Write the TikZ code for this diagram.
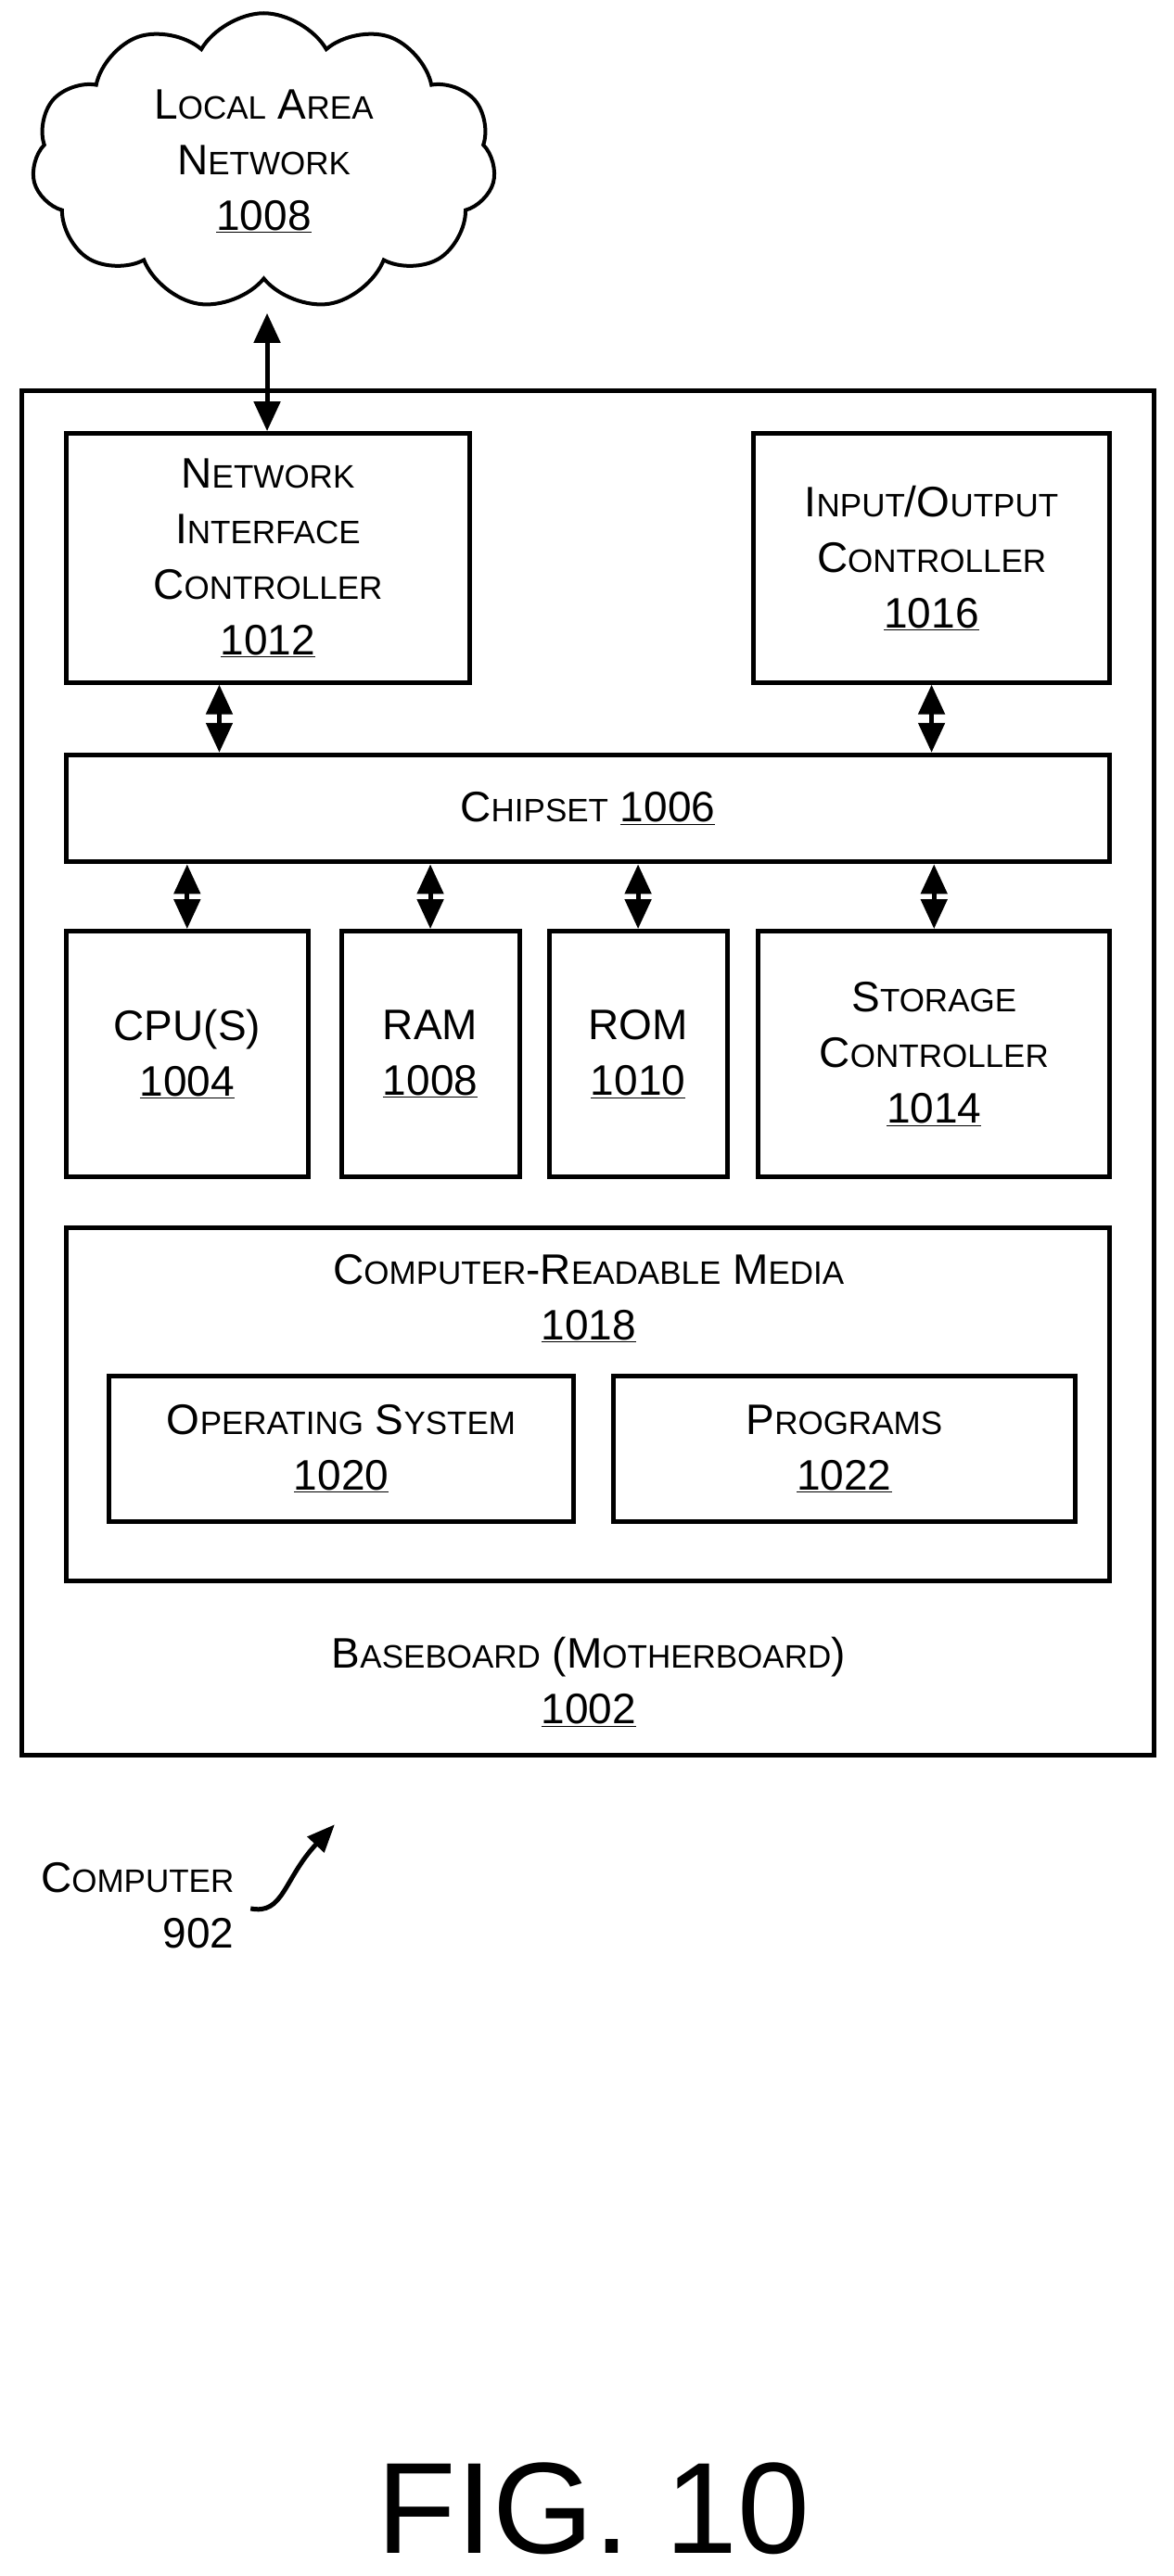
\documentclass[tikz,border=0pt]{standalone}
\usepackage{fontspec}
\setmainfont{Liberation Sans}
\usetikzlibrary{arrows.meta,shapes.symbols}
\newcommand\sk[1]{{\fontsize{35}{60}\selectfont #1}}
\begin{document}
\begin{tikzpicture}[x=1.778pt,y=-1.778pt,
  box/.style={draw,line width=5pt,rectangle,inner sep=0pt,align=center,
    font=\fontsize{46}{60}\selectfont},
  lbl/.style={align=center,inner sep=0pt,font=\fontsize{46}{60}\selectfont},
  conn/.style={line width=5pt,{Triangle[width=28pt,length=32pt]}-{Triangle[width=28pt,length=32pt]}}]
\useasboundingbox (0,0) rectangle (712,1563);
\node[cloud,draw,line width=4pt,cloud puffs=11,cloud puff arc=120,aspect=1.6,
  minimum width=500pt,minimum height=320pt,inner sep=0pt,align=center,
  font=\fontsize{46}{60}\selectfont] (lan) at (160,98)
  {L\sk{OCAL} A\sk{REA}\\N\sk{ETWORK}\\\underline{1008}};
\node[box,minimum width={687*1.778pt},minimum height={828*1.778pt}] (base) at (356.5,651) {};
\node[box,minimum width={245*1.778pt},minimum height={151*1.778pt}] (nic) at (162.5,338.5)
  {N\sk{ETWORK}\\I\sk{NTERFACE}\\C\sk{ONTROLLER}\\\underline{1012}};
\node[box,minimum width={216*1.778pt},minimum height={151*1.778pt}] (io) at (565,338.5)
  {I\sk{NPUT}/O\sk{UTPUT}\\C\sk{ONTROLLER}\\\underline{1016}};
\node[box,minimum width={633*1.778pt},minimum height={65*1.778pt}] (chip) at (356.5,490.5)
  {C\sk{HIPSET} \underline{1006}};
\node[box,minimum width={147*1.778pt},minimum height={149*1.778pt}] (cpu) at (113.5,639.5)
  {CPU(S)\\\underline{1004}};
\node[box,minimum width={108*1.778pt},minimum height={149*1.778pt}] (ram) at (261,639.5)
  {RAM\\\underline{1008}};
\node[box,minimum width={108*1.778pt},minimum height={149*1.778pt}] (rom) at (387,639.5)
  {ROM\\\underline{1010}};
\node[box,minimum width={213*1.778pt},minimum height={149*1.778pt}] (stor) at (566.5,639.5)
  {S\sk{TORAGE}\\C\sk{ONTROLLER}\\\underline{1014}};
\node[box,minimum width={633*1.778pt},minimum height={214*1.778pt}] (crm) at (356.5,852) {};
\node[lbl] (crmt) at (357,787.5) {C\sk{OMPUTER}-R\sk{EADABLE} M\sk{EDIA}\\\underline{1018}};
\node[box,minimum width={282*1.778pt},minimum height={88*1.778pt}] (os) at (207,879)
  {O\sk{PERATING} S\sk{YSTEM}\\\underline{1020}};
\node[box,minimum width={280*1.778pt},minimum height={88*1.778pt}] (prog) at (512,879)
  {P\sk{ROGRAMS}\\\underline{1022}};
\node[lbl] (baset) at (357,1020.5) {B\sk{ASEBOARD} (M\sk{OTHERBOARD})\\\underline{1002}};
\node[lbl,anchor=east,align=right] (comp) at (142,1156) {C\sk{OMPUTER}\\902};
\node[lbl,font=\fontsize{140}{140}\selectfont] (fig) at (360,1522) {FIG. 10};
\coordinate (lanb) at (162,190);
\draw[conn] (lanb) -- (nic.north -| lanb);
\draw[conn] (nic.south -| 133,0) -- (chip.north -| 133,0);
\draw[conn] (io.south) -- (chip.north -| io.south);
\draw[conn] (chip.south -| cpu.north) -- (cpu.north);
\draw[conn] (chip.south -| ram.north) -- (ram.north);
\draw[conn] (chip.south -| rom.north) -- (rom.north);
\draw[conn] (chip.south -| stor.north) -- (stor.north);
\coordinate (ps) at (152,1158);
\coordinate (pe) at (203,1107);
\draw[line width=5pt,-{Triangle[width=24pt,length=30pt]}] (ps) .. controls (172,1162) and (172,1140) .. (pe);
\end{tikzpicture}
\end{document}
